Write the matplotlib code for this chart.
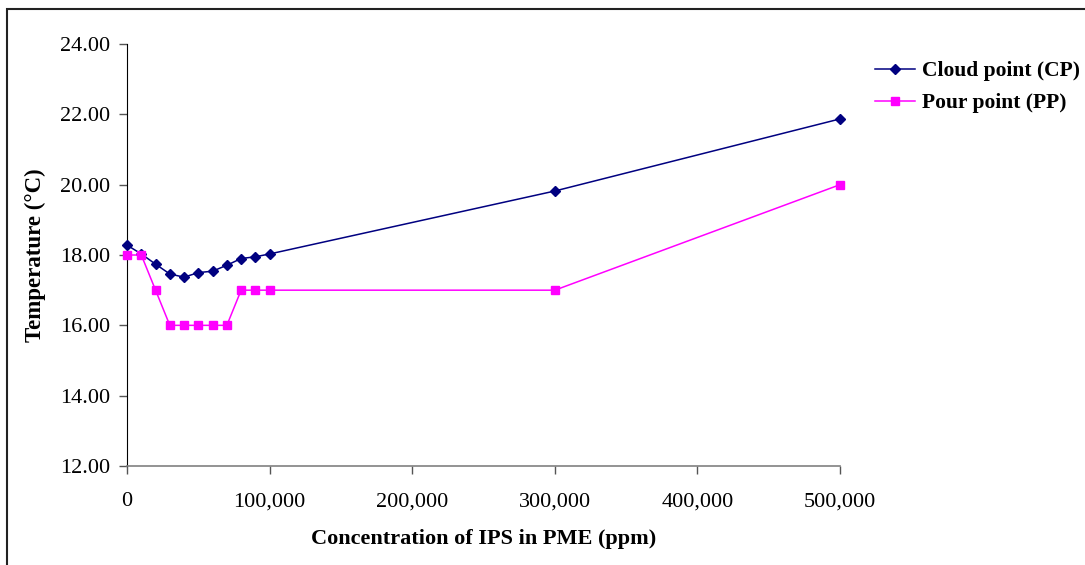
import matplotlib.pyplot as plt
from matplotlib.patches import Rectangle
from matplotlib.ticker import FuncFormatter

# Concentration (ppm) and measured temperatures (°C)
concentration = [0, 10000, 20000, 30000, 40000, 50000, 60000, 70000, 80000,
                 90000, 100000, 300000, 500000]
cloud_point = [18.28, 18.03, 17.74, 17.46, 17.37, 17.50, 17.54, 17.71, 17.90,
               17.95, 18.03, 19.82, 21.87]
pour_point = [18, 18, 17, 16, 16, 16, 16, 16, 17, 17, 17, 17, 20]

x_ticks = [0, 100000, 200000, 300000, 400000, 500000]
y_ticks = [12, 14, 16, 18, 20, 22, 24]

plt.rcParams["font.family"] = ["Liberation Serif", "DejaVu Serif"]

fig = plt.figure(figsize=(10.85, 5.65), dpi=100)
ax = fig.add_axes([0.1171, 0.1752, 0.6571, 0.7469])

ax.plot(concentration, cloud_point, color="#000080", marker="D",
        markersize=4.6, linewidth=1.1, label="Cloud point (CP)",
        clip_on=False, zorder=3)
ax.plot(concentration, pour_point, color="#FF00FF", marker="s",
        markersize=5.8, linewidth=1.1, label="Pour point (PP)",
        clip_on=False, zorder=3)

ax.set_xlim(0, 500000)
ax.set_ylim(12, 24)
ax.set_xticks(x_ticks)
ax.set_yticks(y_ticks)
ax.xaxis.set_major_formatter(FuncFormatter(lambda v, p: f"{int(v):,}"))
ax.yaxis.set_major_formatter(FuncFormatter(lambda v, p: f"{v:.2f}"))
ax.tick_params(axis="both", direction="out", length=6, width=1,
               labelsize=16, colors="#555555", labelcolor="black")
ax.tick_params(axis="y", pad=6)
ax.tick_params(axis="x", pad=13)

for side in ["top", "right"]:
    ax.spines[side].set_visible(False)
ax.spines["left"].set_color("black")
ax.spines["bottom"].set_color("#808080")
ax.spines["bottom"].set_linewidth(1.2)

ax.set_xlabel("Concentration of IPS in PME (ppm)", fontsize=16,
              fontweight="bold", labelpad=13)
ax.set_ylabel("Temperature (°C)", fontsize=16.5, fontweight="bold",
              labelpad=10)

fig.legend(loc="upper left", bbox_to_anchor=(0.7885, 0.9256), frameon=False,
           prop={"size": 15.5, "weight": "bold"}, handlelength=1.85,
           handletextpad=0.33, labelspacing=0.55)

# outer chart frame
fig.patches.append(Rectangle((6.5 / 1085, -0.1), 1.2, 1 - 8.5 / 565 + 0.1,
                             transform=fig.transFigure, fill=False,
                             edgecolor="#222222", linewidth=1.5))

fig.savefig("out.png", dpi=100)
